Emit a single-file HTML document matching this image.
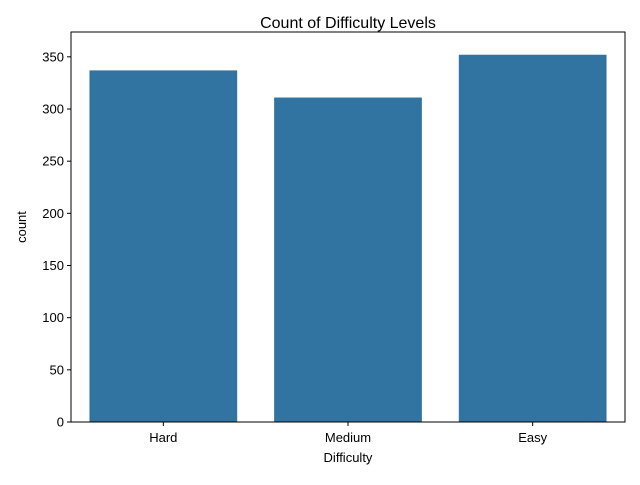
<!DOCTYPE html>
<html><head><meta charset="utf-8"><style>
body{margin:0;background:#fff}
svg text{font-family:"Liberation Sans","DejaVu Sans",sans-serif;fill:#000}
</style></head><body>
<svg id="chart" width="640" height="480" viewBox="0 0 640 480">
<text x="348" y="28" font-size="16" text-anchor="middle">Count of Difficulty Levels</text>
<g id="bars"></g>
<g id="yticks"></g>
<g id="xticks"></g>
<rect x="71" y="32" width="554" height="390" fill="none" stroke="#000" stroke-width="1"/>
<text x="348" y="462" font-size="13" text-anchor="middle">Difficulty</text>
<text x="26" y="227" font-size="13" text-anchor="middle" transform="rotate(-90 26 227)">count</text>
</svg>
<script>
const categories=["Hard","Medium","Easy"];
const counts=[337,311,352];
const yTicks=[0,50,100,150,200,250,300,350];
const L=71,R=625,T=32,B=422,yMax=373.8;
const ns="http://www.w3.org/2000/svg";
function y(v){return B-(v/yMax)*(B-T);}
function xc(i){const w=(R-L)/categories.length;return L+w*(i+0.5);}
const bw=(R-L)/categories.length*0.8;
const bars=document.getElementById('bars'),yt=document.getElementById('yticks'),xt=document.getElementById('xticks');
categories.forEach((c,i)=>{
 const r=document.createElementNS(ns,'rect');
 r.setAttribute('x',xc(i)-bw/2);r.setAttribute('y',y(counts[i]));
 r.setAttribute('width',bw);r.setAttribute('height',B-y(counts[i]));
 r.setAttribute('fill','#3274a1');
 
 
 bars.appendChild(r);
 const l=document.createElementNS(ns,'line');
 l.setAttribute('x1',xc(i));l.setAttribute('x2',xc(i));l.setAttribute('y1',B);l.setAttribute('y2',B+4);l.setAttribute('stroke','#000');
 
 
 xt.appendChild(l);
 const t=document.createElementNS(ns,'text');
 t.setAttribute('x',xc(i));t.setAttribute('y',442);t.setAttribute('font-size','13');t.setAttribute('text-anchor','middle');
 t.textContent=c;
 
 
 xt.appendChild(t);
});
yTicks.forEach(v=>{
 const l=document.createElementNS(ns,'line');
 l.setAttribute('x1',L-4);l.setAttribute('x2',L);l.setAttribute('y1',y(v));l.setAttribute('y2',y(v));l.setAttribute('stroke','#000');
 
 
 yt.appendChild(l);
 const t=document.createElementNS(ns,'text');
 t.setAttribute('x',L-7);t.setAttribute('y',y(v)+4.5);t.setAttribute('font-size','13');t.setAttribute('text-anchor','end');
 t.textContent=v;
 
 
 yt.appendChild(t);
});
</script>
</body></html>
